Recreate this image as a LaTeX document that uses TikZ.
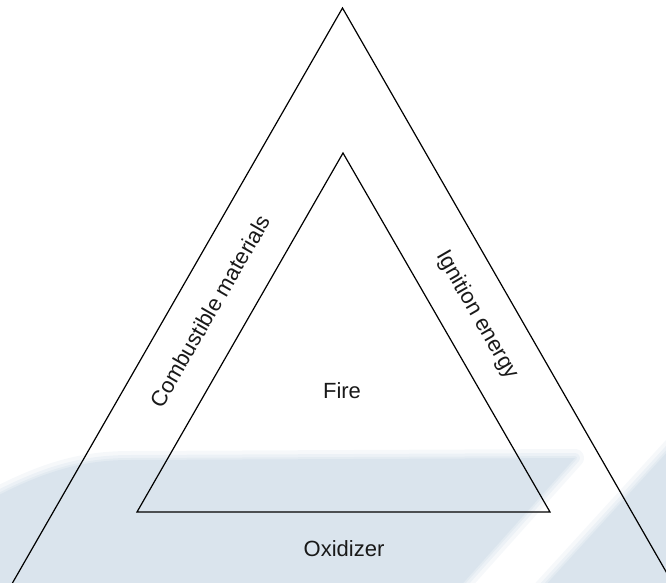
\documentclass[tikz,border=0pt]{standalone}
\usepackage{fontspec}
\setmainfont{Liberation Sans}
\definecolor{wm}{RGB}{218,228,237}
\tikzset{
  tri/.style={draw=black, line width=1.2pt, line join=miter},
  lbl/.style={font=\fontsize{22}{26}\selectfont, inner sep=0pt, text=black!90},
  wmfill/.style={fill=wm, draw=wm}
}
\begin{document}
\begin{tikzpicture}[x=1pt,y=-1pt]
\useasboundingbox (0,0) rectangle (666,583);
\clip (0,0) rectangle (666,583);
% watermark background
\foreach \w/\o in {18/0.25,10/0.35,4/0.5}{
  \draw[wm, line width=\w pt, opacity=\o, line join=round]
    (-20,505) .. controls (40,472) and (80,460) .. (130,460) -- (575,458) -- (448,600) -- (-20,600) -- cycle;
  \draw[wm, line width=\w pt, opacity=\o, line join=round]
    (532,600) -- (680,438) -- (720,438) -- (720,600) -- cycle;
}
\fill[wm] (-20,505) .. controls (40,472) and (80,460) .. (130,460) -- (575,458) -- (448,600) -- (-20,600) -- cycle;
\fill[wm] (532,600) -- (680,438) -- (720,438) -- (720,600) -- cycle;
% outer triangle
\coordinate (oT) at (342.5,8);
\coordinate (oL) at (2.7,600);
\coordinate (oR) at (682.3,600);
\draw[tri] (oL) -- (oT) -- (oR) -- cycle;
% inner triangle
\coordinate (iT) at (343,153);
\coordinate (iL) at (137,512);
\coordinate (iR) at (550,512);
\draw[tri] (iL) -- (iT) -- (iR) -- cycle;
% labels
\node[lbl, rotate=60] (comb) at (210,311) {Combustible materials};
\node[lbl, rotate=-60] (ign) at (477,315) {Ignition energy};
\node[lbl, anchor=base] (fire) at (342,398) {Fire};
\node[lbl, anchor=base] (oxi) at (344,556) {Oxidizer};
\end{tikzpicture}
\end{document}
